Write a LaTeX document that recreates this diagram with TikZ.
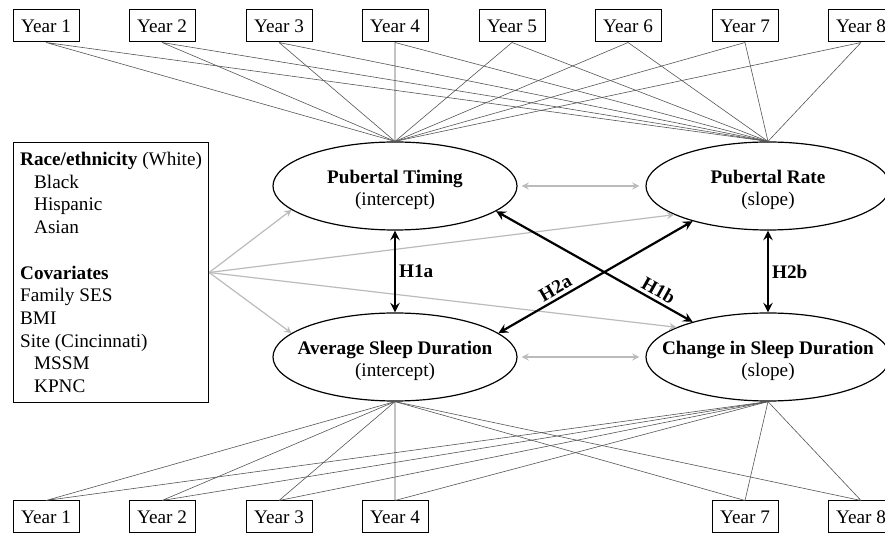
\documentclass[tikz,border=0pt]{standalone}
\usepackage{fontspec}
\setmainfont{Liberation Serif}
\usetikzlibrary{shapes.geometric}
\definecolor{loadline}{HTML}{555555}
\definecolor{covarrow}{HTML}{BBBBBB}

\begin{document}
\begin{tikzpicture}[x=0.5pt, y=-0.5pt, >=stealth,
	font=\fontsize{9.6}{11.35}\selectfont,
	year/.style={draw, rectangle, minimum width=33pt, minimum height=16pt, inner sep=1pt, line width=0.5pt},
	latent/.style={draw, ellipse, minimum width=122pt, minimum height=44pt, line width=0.6pt},
	load/.style={draw=loadline, line width=0.3pt},
	cov/.style={->, draw=covarrow, line width=0.6pt},
	hyp/.style={<->, line width=1.1pt, black},
	hlabel/.style={font=\fontsize{9.6}{11}\selectfont\bfseries, inner sep=1.5pt}]
		\useasboundingbox (0,0) rectangle (885,534);
		\node[latent](pt) at (395,186) {};
		\node[latent](pr) at (768,186) {};
		\node[latent](avg) at (395,357) {};
		\node[latent](chg) at (768,357) {};
		\node[align=center](ptT) at (395,190) {\textbf{Pubertal Timing}\\(intercept)};
		\node[align=center](prT) at (768,190) {\textbf{Pubertal Rate}\\(slope)};
		\node[align=center](avgT) at (395,361) {\textbf{Average Sleep Duration}\\(intercept)};
		\node[align=center](chgT) at (768,361) {\textbf{Change in Sleep Duration}\\(slope)};
		\foreach \i/\x in {1/46,2/162,3/279,4/395,5/512,6/628,7/745,8/861}
			\node[year](t\i) at (\x,26) {Year \i};
		\foreach \i/\x in {1/46,2/162,3/279,4/395,7/745,8/861}
			\node[year](b\i) at (\x,517) {Year \i};
		\foreach \i in {1,...,8}
			\draw[load] (t\i.south) -- (pt.north) (t\i.south) -- (pr.north);
		\foreach \i in {1,2,3,4,7,8}
			\draw[load] (b\i.north) -- (avg.south) (b\i.north) -- (chg.south);
		\node[draw, rectangle, anchor=north west, align=left, minimum width=97pt, minimum height=130pt, line width=0.5pt](covbox) at (13,142)
			{\textbf{Race/ethnicity} (White)\\
			\hspace*{7pt}Black\\
			\hspace*{7pt}Hispanic\\
			\hspace*{7pt}Asian\\[11.35pt]
			\textbf{Covariates}\\
			Family SES\\
			BMI\\
			Site (Cincinnati)\\
			\hspace*{7pt}MSSM\\
			\hspace*{7pt}KPNC};
		\draw[cov] (covbox.east) -- (pt.193);
		\draw[cov] (covbox.east) -- (pr.197);
		\draw[cov] (covbox.east) -- (chg.162);
		\draw[cov] (covbox.east) -- (avg.167);
		\draw[cov, <->, shorten >=3pt, shorten <=2pt] (pt.east) -- (pr.west);
		\draw[cov, <->, shorten >=3pt, shorten <=2pt] (avg.east) -- (chg.west);
		\draw[hyp] (pt.south) -- (avg.north) node[midway, right, hlabel](h1a) {H1a};
		\draw[hyp] (pr.south) -- (chg.north) node[midway, right, hlabel](h2b) {H2b};
		\draw[hyp] (pt.346) -- (chg.155) node[pos=0.8, above, sloped, hlabel](h1b) {H1b};
		\draw[hyp] (avg.13) -- (pr.205) node[pos=0.32, above, sloped, hlabel](h2a) {H2a};
	\end{tikzpicture}
\end{document}
